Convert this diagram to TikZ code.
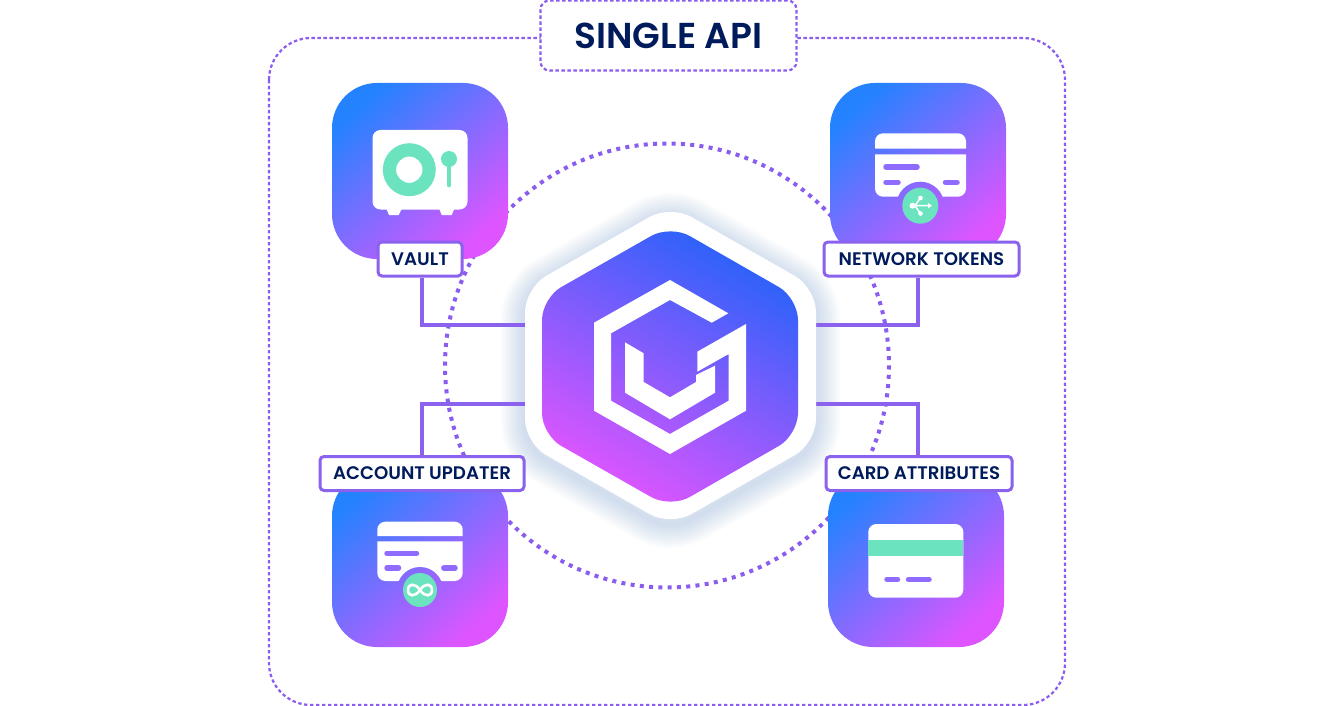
\documentclass[tikz,border=0pt]{standalone}
\usepackage{fontspec}
\setmainfont{Poppins SemiBold}
\usepackage{tikz}
\definecolor{wirepurple}{HTML}{8B62EE}
\definecolor{dotpurple}{HTML}{8A5CF0}
\definecolor{navy}{HTML}{001B5C}
\definecolor{mint}{HTML}{6BE3BF}
\definecolor{tileblue}{HTML}{2582FF}
\definecolor{tilepink}{HTML}{DE55FF}
\definecolor{hubblue}{HTML}{2862FA}
\definecolor{hubpink}{HTML}{E055FF}
\definecolor{glowblue}{HTML}{7FA6D6}
\definecolor{barpurple}{HTML}{8F6CFF}
\tikzset{
  tile/.style={minimum size=176pt,inner sep=0pt,rounded corners=45pt,top color=tileblue,bottom color=tilepink,shading angle=42},
  tag/.style={draw=wirepurple,line width=3pt,fill=white,rounded corners=4pt,minimum height=34pt,inner sep=0pt,text=navy,font=\fontsize{18.2}{20}\selectfont},
  wire/.style={draw=wirepurple,line width=3.8pt},
  bar/.style={line width=5.5pt,line cap=round,draw=barpurple},
  panel/.style={fill=white,rounded corners=8pt},
  frame/.style={draw=dotpurple,line width=2.2pt,dash pattern=on 3.4pt off 2.6pt},
  glow/.style={draw=glowblue,draw opacity=0.03,line join=round,rounded corners=24pt}
}
\begin{document}
\begin{tikzpicture}[x=1pt,y=-1pt]
\useasboundingbox (0,0) rectangle (1336,706);
\fill[white] (0,0) rectangle (1336,706);
\draw[frame,rounded corners=42pt] (269,38) rectangle (1065,705);
\node[frame,fill=white,rounded corners=9pt,minimum width=256pt,minimum height=70pt,inner sep=0pt,text=navy,font=\fontsize{36}{40}\selectfont] (api) at (668.5,35.5) {SINGLE API};
\draw[dotpurple,line width=4pt,dash pattern=on 4pt off 5.3pt] (667,365.5) circle (222);

\node[tile] (t_v) at (420,171) {};
\node[tile] (t_n) at (918,171) {};
\node[tile] (t_a) at (420,559) {};
\node[tile] (t_c) at (916,559) {};

\fill[panel] (372.5,130) rectangle (467.5,209.5);
\fill[white] (386.5,209) -- (389,215) -- (398.7,215) -- (401.7,209) -- cycle;
\fill[white] (439.3,209) -- (441.7,215) -- (451.7,215) -- (454.3,209) -- cycle;
\fill[mint,even odd rule] (409.3,169.7) circle (26.5) (409.3,169.7) circle (13.2);
\fill[mint] (449,159) circle (8);
\draw[mint,line width=4.7pt,line cap=round] (449,159) -- (449,185);

\fill[white] (875,148.7) [rounded corners=8pt] -- (875,133.3) -- (966,133.3) [sharp corners] -- (966,148.7) -- cycle;
\fill[white] (875,154.3) [rounded corners=8pt] -- (875,196.7) -- (966,196.7) [sharp corners] -- (966,154.3) -- cycle;
\draw[bar] (886,167) -- (917,167);
\draw[bar] (886,182.3) -- (898,182.3);
\draw[bar] (945.5,182.3) -- (957,182.3);
\begin{scope}
\clip (920.3,205.7) circle (24);
\node[tile] at (918,171) {};
\end{scope}
\fill[mint] (920.3,205.7) circle (18);
\draw[white,line width=1.5pt] (911.5,205.7) -- (929,205.7) (920,198.5) -- (915,205.7) -- (920,213);
\fill[white] (912.5,205.7) circle (3) (920.5,198) circle (2.3) (920.5,213.5) circle (2.3);
\fill[white] (932,205.7) -- (928,203) -- (928,208.4) -- cycle;

\fill[white] (377.3,536) [rounded corners=8pt] -- (377.3,521.7) -- (462.7,521.7) [sharp corners] -- (462.7,536) -- cycle;
\fill[white] (377.3,541.3) [rounded corners=8pt] -- (377.3,581) -- (462.7,581) [sharp corners] -- (462.7,541.3) -- cycle;
\draw[bar] (387,553.3) -- (416.5,553.3);
\draw[bar] (387,568) -- (398.5,568);
\draw[bar] (443.8,568) -- (455,568);
\begin{scope}
\clip (420,590) circle (23);
\node[tile] at (420,559) {};
\end{scope}
\fill[mint] (420,590) circle (17);
\draw[white,line width=2.6pt] (420,590) .. controls (415,582.5) and (408,583.5) .. (408,590) .. controls (408,596.5) and (415,597.5) .. (420,590) .. controls (425,582.5) and (432,583.5) .. (432,590) .. controls (432,596.5) and (425,597.5) .. (420,590);

\fill[panel] (868.3,524) rectangle (963.3,597.7);
\fill[mint] (868.3,540) rectangle (963.3,555.7);
\draw[bar] (887,579.3) -- (897.5,579.3);
\draw[bar] (908.5,579.3) -- (929,579.3);

\foreach \w in {4,8,...,48} {
  \draw[glow,line width=\w pt] (670.5,210) -- (816,293) -- (816,448) -- (670.5,531) -- (525,448) -- (525,293) -- cycle;
}

\node[tag,minimum width=84pt] (l_v) at (420,259) {VAULT};
\node[tag,minimum width=195pt] (l_n) at (921.5,259) {NETWORK TOKENS};
\node[tag,minimum width=204pt] (l_a) at (422,473.5) {ACCOUNT UPDATER};
\node[tag,minimum width=186pt] (l_c) at (919,473.5) {CARD ATTRIBUTES};

\coordinate (h_nw) at (530,325);
\coordinate (h_ne) at (811,325);
\coordinate (h_sw) at (530,404);
\coordinate (h_se) at (811,404);
\draw[wire] ([xshift=2pt]l_v.south) |- (h_nw);
\draw[wire] ([xshift=-3.5pt]l_n.south) |- (h_ne);
\draw[wire] (l_a.north) |- (h_sw);
\draw[wire] ([xshift=-1pt]l_c.north) |- (h_se);

\fill[white,rounded corners=24pt] (670.5,205) -- (816,288) -- (816,443) -- (670.5,526) -- (525,443) -- (525,288) -- cycle;
\shade[top color=hubblue,bottom color=hubpink,shading angle=-30,rounded corners=22pt] (670.5,225) -- (798,298) -- (798,435) -- (670.5,508) -- (542,435) -- (542,298) -- cycle;
\fill[white] (670,280) -- (728.3,313.3) -- (711.7,322.7) -- (670,300) -- (611,333.3) -- (611,400.7) -- (670,434) -- (728.7,400.7) -- (728.7,354) -- (697.3,371.7) -- (697.3,351.7) -- (746,324) -- (746,410.7) -- (670,454) -- (594,410.7) -- (594,322.7) -- cycle;
\fill[white] (625,342.3) -- (643.7,353.3) -- (643.7,382) -- (670,397.3) -- (696,382) -- (696,375) -- (715,365.7) -- (715,392.7) -- (670,419.3) -- (625,392.7) -- cycle;
\end{tikzpicture}
\end{document}
